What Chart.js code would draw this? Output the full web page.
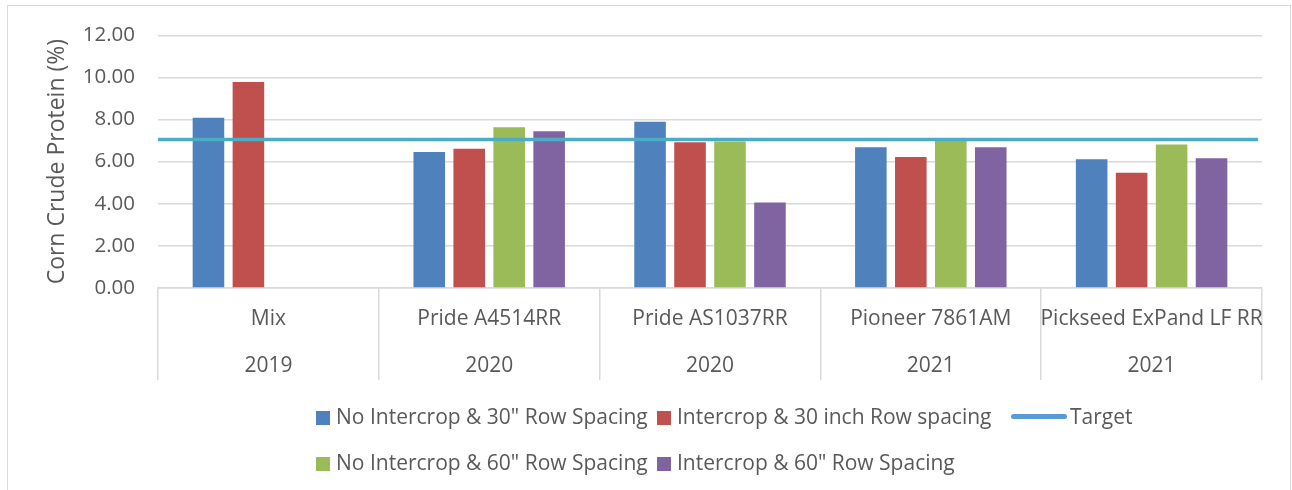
<!DOCTYPE html>
<html lang="en">
<head>
  <meta charset="utf-8">
  <title>Corn Crude Protein</title>
  <style type="text/css">
    body {
      margin: 0;
      background-color: #ffffff;
      overflow: hidden;
      font-family: 'Open Sans', sans-serif;
    }
    #wrap {
      position: relative;
      width: 1292px;
      height: 490px;
    }
    #frame {
      position: absolute;
      left: 7px;
      top: 5px;
      width: 1282px;
      height: 600px;
      border: 1.5px solid #d9d9d9;
    }
    #graph {
      position: absolute;
      left: 0;
      top: 0;
    }
    .legend-item {
      position: absolute;
      height: 24px;
      line-height: 24px;
      font-size: 21px;
      color: #595959;
      white-space: nowrap;
    }
    .legend-box {
      display: inline-block;
      width: 14px;
      height: 14px;
      margin-right: 6px;
      vertical-align: -1px;
    }
    .legend-line {
      display: inline-block;
      width: 56px;
      height: 5px;
      border-radius: 3px;
      margin-right: 3px;
      vertical-align: 5px;
    }
  </style>
  <script src="https://cdn.jsdelivr.net/npm/chart.js@4"></script>
</head>
<body>
  <div id="wrap">
    <div id="frame"></div>
    <canvas id="graph" width="1292" height="490"></canvas>
    <div id="legend"></div>
  </div>
  <script>
    // data
    var categories = ['Mix', 'Pride A4514RR', 'Pride AS1037RR', 'Pioneer 7861AM', 'Pickseed ExPand LF RR'];
    var years = ['2019', '2020', '2020', '2021', '2021'];
    var seriesNames = [
      'No Intercrop & 30" Row Spacing',
      'Intercrop & 30 inch Row spacing',
      'No Intercrop & 60" Row Spacing',
      'Intercrop & 60" Row Spacing'
    ];
    var noIntercrop30 = [8.08, 6.46, 7.90, 6.68, 6.11];
    var intercrop30 = [9.78, 6.61, 6.92, 6.22, 5.47];
    var noIntercrop60 = [null, 7.63, 6.96, 6.98, 6.81];
    var intercrop60 = [null, 7.44, 4.06, 6.68, 6.16];
    var targetName = 'Target';
    var targetValue = 7.05;
    var yTicks = [0, 2, 4, 6, 8, 10, 12];

    var seriesColors = ['#4f81bd', '#c0504d', '#9bbb59', '#8064a2'];
    var targetColor = '#4bacc6';
    var gridColor = '#d9d9d9';
    var textColor = '#595959';

    var seriesValues = [noIntercrop30, intercrop30, noIntercrop60, intercrop60];
    var datasets = [];
    for (var i = 0; i < seriesValues.length; i++) {
      datasets.push({
        label: seriesNames[i],
        data: seriesValues[i],
        backgroundColor: seriesColors[i],
        categoryPercentage: 0.724,
        barPercentage: 0.79
      });
    }

    // target runs across the whole plot like the Excel series line,
    // placed with the y scale
    var targetLine = {
      id: 'targetLine',
      afterDatasetsDraw: function (chart) {
        var area = chart.chartArea;
        var y = chart.scales.y.getPixelForValue(targetValue);
        var c = chart.ctx;
        c.save();
        c.strokeStyle = targetColor;
        c.lineWidth = 3.5;
        c.beginPath();
        c.moveTo(area.left, y);
        c.lineTo(area.right - 4, y);
        c.stroke();
        c.restore();
      }
    };

    var ctx = document.getElementById('graph').getContext('2d');
    var chart = new Chart(ctx, {
      type: 'bar',
      data: {
        labels: categories.map(function (c, i) { return [c, years[i]]; }),
        datasets: datasets
      },
      plugins: [targetLine],
      options: {
        responsive: false,
        animation: false,
        layout: {
          padding: { top: 34, right: 30, bottom: 102, left: 0 }
        },
        plugins: {
          legend: { display: false },
          tooltip: { enabled: false }
        },
        scales: {
          x: {
            offset: true,
            grid: {
              offset: true,
              drawOnChartArea: false,
              tickLength: 92,
              color: gridColor,
              lineWidth: 1.5
            },
            border: { display: true, color: gridColor, width: 1.5 },
            ticks: {
              autoSkip: false,
              maxRotation: 0,
              padding: -85,
              color: textColor,
              font: { family: 'Open Sans', size: 21, lineHeight: 2.24 }
            },
            afterFit: function (scale) { scale.height = 100; }
          },
          y: {
            min: 0,
            max: 12,
            afterBuildTicks: function (scale) {
              scale.ticks = yTicks.map(function (v) { return { value: v }; });
            },
            grid: {
              color: gridColor,
              lineWidth: 1.5,
              drawTicks: false
            },
            border: { display: false },
            ticks: {
              padding: 23,
              color: textColor,
              font: { family: 'Open Sans', size: 20.5 },
              callback: function (v) { return Number(v).toFixed(2); }
            },
            title: {
              display: true,
              text: 'Corn Crude Protein (%)',
              color: textColor,
              font: { family: 'Open Sans', size: 23 },
              padding: { top: 44, bottom: 0 }
            },
            afterFit: function (scale) { scale.width = 158; }
          }
        }
      }
    });

    // legend laid out like the original (two rows, aligned columns)
    var legend = document.getElementById('legend');
    var legendSpots = [
      { idx: 0, x: 316, y: 404 },
      { idx: 1, x: 657, y: 404 },
      { idx: -1, x: 1011, y: 404 },
      { idx: 2, x: 316, y: 450 },
      { idx: 3, x: 657, y: 450 }
    ];
    legendSpots.forEach(function (s) {
      var item = document.createElement('div');
      item.className = 'legend-item';
      item.style.left = s.x + 'px';
      item.style.top = s.y + 'px';
      var mark = document.createElement('span');
      var text;
      if (s.idx < 0) {
        mark.className = 'legend-line';
        mark.style.backgroundColor = '#5b9bd5';
        text = targetName;
      } else {
        var ds = chart.data.datasets[s.idx];
        mark.className = 'legend-box';
        mark.style.backgroundColor = ds.backgroundColor;
        text = ds.label;
      }
      item.appendChild(mark);
      item.appendChild(document.createTextNode(text));
      legend.appendChild(item);
    });
  </script>
</body>
</html>
